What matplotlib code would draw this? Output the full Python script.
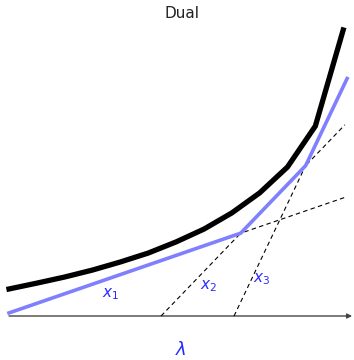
import numpy as np
import matplotlib
matplotlib.use("Agg")
import matplotlib.pyplot as plt

plt.rcParams["mathtext.fontset"] = "dejavusans"

# Primal value sampled on a grid of multipliers
lam = [0, 1, 2, 3, 4, 5, 6, 7, 8, 9, 10, 11, 12]
primal = [0.97, 1.18, 1.40, 1.65, 1.94, 2.26, 2.66, 3.12, 3.70, 4.42, 5.35, 6.82, 10.27]

# Supporting lines: value at the start point and slope
line_names = ["$x_1$", "$x_2$", "$x_3$"]
line_start = [0.0, 5.46, 8.08]       # lambda where each line begins
line_start_val = [0.11, 0.0, 0.0]    # value at that lambda
line_slope = [0.344, 1.04, 2.10]
line_end = [12.10, 12.06, 12.14]     # lambda where each dashed line stops

# Dual function: upper envelope of the supporting lines (corner points)
dual_lam = [0.0, 8.32, 10.65, 12.14]

label_lam = [3.66, 7.18, 9.08]
label_val = [0.79, 1.08, 1.33]

lam_axis_end = 12.32

fig = plt.figure(figsize=(3.54, 3.60), dpi=100)
ax = fig.add_axes([0, 0, 1, 1])
ax.set_xlim(-0.323, 12.388)
ax.set_ylim(-1.580, 11.346)
ax.axis("off")


def line_value(i, x):
    return line_start_val[i] + line_slope[i] * (x - line_start[i])


# dashed supporting lines
for i in range(3):
    xs = [line_start[i], line_end[i]]
    ax.plot(xs, [line_value(i, x) for x in xs], color="black", lw=0.8,
            dashes=(4, 3), zorder=2)

# dual envelope
dual_val = [max(line_value(i, x) for i in range(3)) for x in dual_lam]
ax.plot(dual_lam, dual_val, color="#8080ff", lw=2.6, zorder=3,
        solid_joinstyle="miter")

# primal curve
ax.plot(lam, primal, color="black", lw=3.8, zorder=4, solid_joinstyle="miter")

# lambda axis
ax.annotate("", xy=(lam_axis_end, 0), xytext=(0, 0),
            arrowprops=dict(arrowstyle="-|>", lw=1.0, color="#444444",
                            mutation_scale=7, shrinkA=0, shrinkB=0),
            zorder=1)

for name, lx, ly in zip(line_names, label_lam, label_val):
    ax.text(lx, ly, name, color="#2b2bff", fontsize=11, ha="center",
            va="center")

ax.text(6.18, -1.22, r"$\lambda$", color="#2b2bff", fontsize=13,
        ha="center", va="center")

fig.text(0.514, 1 - 14 / 360, "Dual", fontsize=11, ha="center", va="center",
         color="#222222")

fig.savefig("out.png", dpi=100)
